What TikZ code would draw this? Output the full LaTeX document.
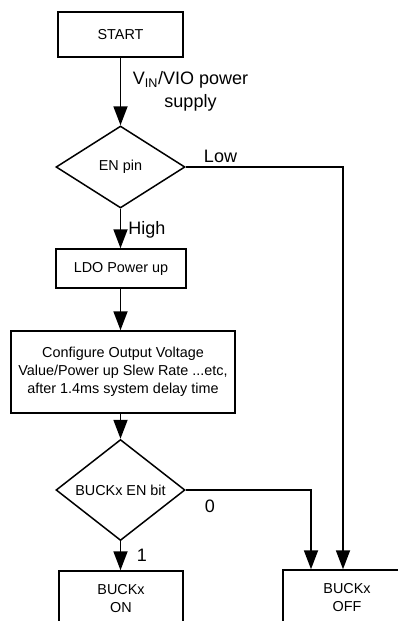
\documentclass[tikz,border=0pt]{standalone}
\usepackage{fontspec}
\setmainfont{Liberation Sans}
\usetikzlibrary{shapes.geometric,arrows.meta}
\begin{document}
\begin{tikzpicture}[x=1pt,y=-1pt,
  every node/.style={font=\fontsize{14.4}{18}\selectfont, inner sep=0pt},
  box/.style={draw, line width=1.5pt, rectangle, align=center},
  decision/.style={draw, line width=1.5pt, diamond, minimum width=129pt, minimum height=82pt},
  flow/.style={line width=1.8pt, -{Triangle[length=19pt,width=14pt]}},
  lbl/.style={font=\fontsize{18}{23}\selectfont}]
\clip (0,0) rectangle (398,621);
\fill[white] (0,0) rectangle (398,621);
\node[box, minimum width=125pt, minimum height=45pt] (start) at (120.5,34.5) {START};
\node[decision] (en) at (120.5,167) {EN pin};
\node[box, minimum width=130pt, minimum height=39pt] (ldo) at (121,268.5) {LDO Power up};
\node[box, minimum width=224pt, minimum height=82pt] (cfg) at (123,372) {Configure Output Voltage\\Value/Power up Slew Rate ...etc,\\after 1.4ms system delay time};
\node[decision] (buck) at (120.5,490) {BUCKx EN bit};
\node[box, minimum width=124pt, minimum height=56pt] (on) at (121,599) {BUCKx\\ON};
\node[box, minimum width=128pt, minimum height=56pt] (off) at (347,598) {BUCKx\\OFF};
\coordinate (lowx) at (343,0);
\coordinate (zerox) at (311,0);
\draw[flow] (start.south -| en.north) -- (en.north);
\draw[flow] (en.south) -- (en.south |- ldo.north);
\draw[flow] (en.south |- ldo.south) -- (en.south |- cfg.north);
\draw[flow] (cfg.south -| buck.north) -- (buck.north);
\draw[flow] (buck.south) -- (buck.south |- on.north);
\draw[flow] (en.east) -| (lowx |- off.north);
\draw[flow] (buck.east) -| (zerox |- off.north);
\node[lbl, align=center] (supply) at (190.5,91.5) {V\textsubscript{IN}/VIO power\\supply};
\node[lbl] (low) at (220.5,156) {Low};
\node[lbl] (high) at (147,230) {High};
\node[lbl] (zero) at (210,506) {0};
\node[lbl] (one) at (142,555) {1};
\end{tikzpicture}
\end{document}
